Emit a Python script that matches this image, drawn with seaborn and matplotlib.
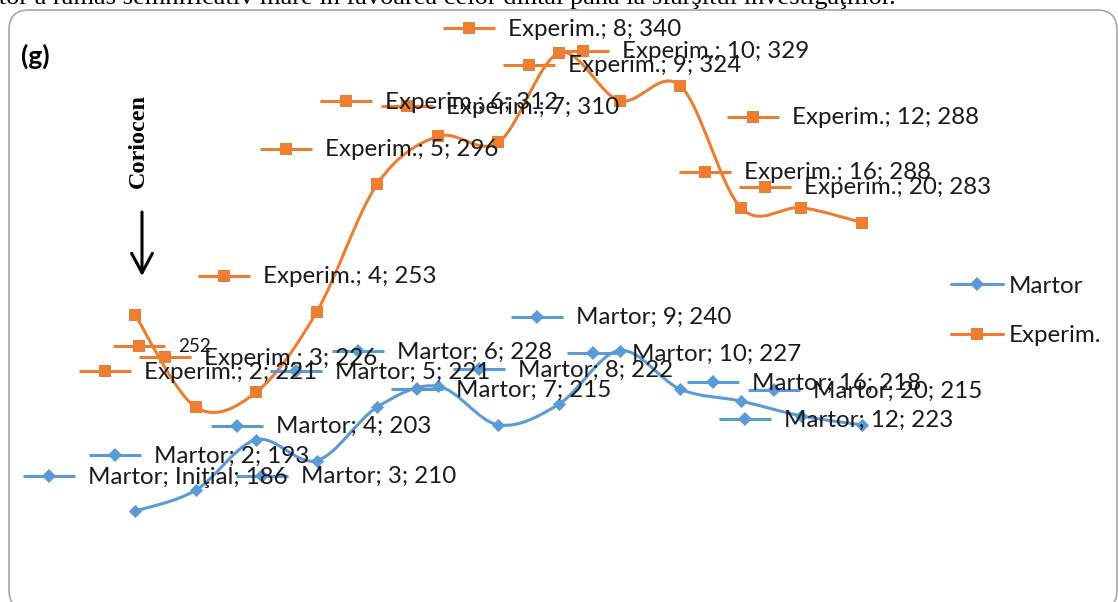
import matplotlib
matplotlib.use("Agg")
import matplotlib.pyplot as plt
import matplotlib.transforms as mtransforms
from matplotlib.path import Path
from matplotlib.patches import PathPatch, FancyBboxPatch, FancyArrowPatch
from matplotlib.lines import Line2D
import seaborn as sns
import numpy as np
import pandas as pd

W, H = 1118, 602

CATEGORIES = ["Iniţial", "2", "3", "4", "5", "6", "7", "8", "9", "10", "12", "16", "20"]
MARTOR = [186, 193, 210, 203, 221, 228, 215, 222, 240, 227, 223, 218, 215]
EXPERIM = [252, 221, 226, 253, 296, 312, 310, 340, 324, 329, 288, 288, 283]
SERIES = ["Martor", "Experim."]

# where each data label key sits, in pixels (right, down) from its point
MARTOR_LABEL_OFFSETS = [
    (-86, -35), (-81, -35), (6, 36), (-80, -35), (-81, -36), (-80, -35), (-81, -36),
    (-80, -35), (-83, -34), (-87, -36), (4, 18), (-88, -34), (-88, -35),
]
EXPERIM_LABEL_OFFSETS = [
    (4, 31), (-91, -36), (-91, -35), (-93, -36), (-91, -35), (-92, -35), (-91, -36),
    (-90, -25), (-91, -36), (-97, -35), (12, -91), (-96, -36), (-97, -36),
]
VALUE_ONLY_LABELS = {("Experim.", 0)}

COLORS = {"Martor": "#5B9BD5", "Experim.": "#ED7D31"}
MARKERS = {"Martor": "D", "Experim.": "s"}
MARKER_S = {"Martor": 45, "Experim.": 72}
TEXT_COLOR = "#1a1a1a"
LABEL_FONT = "Lato"
LABEL_SIZE = 17.4

TOP_TEXT = "rtor a rămas semnificativ mare în favoarea celor dintâi până la sfârşitul investigaţiilor."


def smooth_path(xs, ys) -> Path:
    pts = np.column_stack([xs, ys]).astype(float)
    n = len(pts)
    verts = [pts[0]]
    codes = [Path.MOVETO]
    for i in range(n - 1):
        p0 = pts[max(i - 1, 0)]
        p1 = pts[i]
        p2 = pts[i + 1]
        p3 = pts[min(i + 2, n - 1)]
        verts += [p1 + (p2 - p0) / 6, p2 - (p3 - p1) / 6, p2]
        codes += [Path.CURVE4] * 3
    return Path(verts, codes)


def draw_label(ax, series, i, x, v, offset):
    dx, dy = offset
    trans = mtransforms.Affine2D() + mtransforms.ScaledTranslation(x, v, ax.transData)
    ax.plot(
        [dx - 26, dx, dx + 26], [-dy, -dy, -dy],
        transform=trans, color=COLORS[series], lw=2.2,
        marker=MARKERS[series], markevery=[1],
        markersize=np.sqrt(MARKER_S[series]), markeredgewidth=0,
        solid_capstyle="butt", zorder=5,
    )
    if (series, i) in VALUE_ONLY_LABELS:
        text, size = f"{v}", LABEL_SIZE * 0.78
    else:
        text, size = f"{series}; {CATEGORIES[i]}; {v}", LABEL_SIZE
    ax.annotate(
        text, xy=(x, v), xytext=(dx + 39, -dy - 1), textcoords="offset pixels",
        ha="left", va="center", fontsize=size, family=LABEL_FONT,
        color=TEXT_COLOR, zorder=6,
    )


sns.set_style("white")

df = pd.DataFrame({
    "x": list(range(len(CATEGORIES))) * 2,
    "value": MARTOR + EXPERIM,
    "series": ["Martor"] * len(MARTOR) + ["Experim."] * len(EXPERIM),
})

fig = plt.figure(figsize=(W / 100, H / 100), dpi=100)
ax = fig.add_axes([0, 0, 1, 1])
ax.set_axis_off()

step = 60.58
xlim = (-135 / step, (W - 135) / step)
ylim = (340 - (H - 53) / 2.975, 340 + 53 / 2.975)

for name in SERIES:
    sub = df[df["series"] == name]
    ax.add_patch(PathPatch(smooth_path(sub["x"], sub["value"]), fill=False,
                           edgecolor=COLORS[name], lw=2.2, zorder=2))

for name in SERIES:
    sns.scatterplot(data=df[df["series"] == name], x="x", y="value", ax=ax,
                    marker=MARKERS[name], color=COLORS[name], s=MARKER_S[name],
                    linewidth=0, zorder=3, legend=False)
ax.set_xlim(*xlim)
ax.set_ylim(*ylim)

for i, v in enumerate(MARTOR):
    draw_label(ax, "Martor", i, i, v, MARTOR_LABEL_OFFSETS[i])
for i, v in enumerate(EXPERIM):
    draw_label(ax, "Experim.", i, i, v, EXPERIM_LABEL_OFFSETS[i])

handles = [
    Line2D([], [], color=COLORS[s], lw=2.2, marker=MARKERS[s],
           markersize=np.sqrt(MARKER_S[s]), markeredgewidth=0)
    for s in SERIES
]
leg = ax.legend(
    handles, SERIES, loc="center left",
    bbox_to_anchor=(951 / W, 1 - 311 / H), bbox_transform=fig.transFigure,
    frameon=False, borderpad=0, borderaxespad=0, handlelength=2.15,
    handletextpad=0.25, labelspacing=1.17,
    prop={"family": LABEL_FONT, "size": LABEL_SIZE},
)
for t in leg.get_texts():
    t.set_color(TEXT_COLOR)

# chart frame with rounded corners
frame = FancyBboxPatch((9, -8), 1108, H - 10 + 8, boxstyle="round,pad=0,rounding_size=20",
                       transform=mtransforms.IdentityTransform(), fill=False,
                       edgecolor="#A6A6A6", lw=1.2)
fig.add_artist(frame)

fig.text(896 / W, 1 - 4 / H, TOP_TEXT, ha="right", va="baseline",
         family="Liberation Serif", fontsize=19, color="black")
fig.text(21 / W, 1 - 56 / H, "(g)", ha="left", va="center",
         family=LABEL_FONT, fontweight="bold", fontsize=19, color="black")
fig.text(138 / W, 1 - 140.5 / H, "Coriocen", rotation=90, ha="center", va="center",
         family="Liberation Serif", fontweight="bold", fontsize=17.5, color="black")
fig.add_artist(FancyArrowPatch(
    (142, H - 212), (142, H - 276), transform=mtransforms.IdentityTransform(),
    arrowstyle="->,head_length=14,head_width=7.5", mutation_scale=1,
    color="black", lw=2.2, shrinkA=0, shrinkB=0,
))

fig.savefig("out.png", dpi=100)
